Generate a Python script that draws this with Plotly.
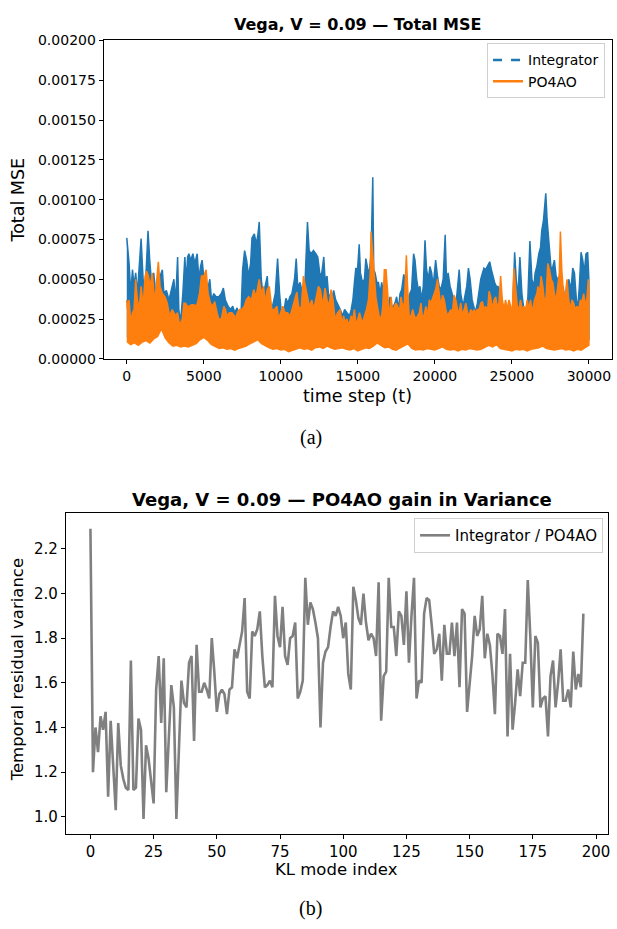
import plotly.graph_objects as go

# ---------------- (a) Total MSE : envelopes (units of 1e-4) -------------
int_hi_t = [0, 150, 260, 370, 470, 580, 690, 800, 930, 1060, 1190, 1290, 1380, 1490, 1620, 1750, 1880,
            2090, 2310, 2410, 2570, 2740, 2950, 3060, 3170, 3300, 3380, 3490, 3640, 3770, 3860, 3950,
            4030, 4160, 4290, 4420, 4570, 4680, 4790, 4890, 5020, 5110, 5240, 5390, 5500, 5650, 5800,
            5970, 6140, 6270, 6400, 6580, 6730, 6880, 7010, 7160, 7270, 7420, 7520, 7650, 7780, 7910,
            8040, 8130, 8280, 8410, 8520, 8600, 8730, 8840, 8990, 9120, 9210, 9310, 9460, 9640, 9790,
            9920, 10070, 10220, 10330, 10460, 10590, 10720, 10890, 11000, 11100, 11250, 11410, 11580,
            11730, 11840, 11970, 12120, 12270, 12400, 12550, 12660, 12790, 12870, 13000, 13090, 13300,
            13430, 13560, 13730,
            13860, 14010, 14140, 14290, 14460, 14570, 14680, 14780, 14870, 14980, 15090, 15170, 15300,
            15430, 15520, 15650, 15750, 15860, 15970, 16030, 16120, 16230, 16340, 16440, 16550, 16660,
            16770, 16880, 16980, 17090, 17200, 17310, 17410, 17520, 17630, 17740, 17850, 17980, 18060,
            18170, 18280, 18380, 18490, 18620, 18710, 18820, 18920, 19030, 19140, 19250, 19360, 19460,
            19570, 19680, 19790, 19890, 20050, 20170, 20280, 20390, 20540, 20670, 20760, 20860, 20990,
            21120, 21250, 21340, 21450, 21580, 21680, 21830, 21940, 22070, 22180, 22290, 22420, 22550,
            22630, 22760, 22870, 22980, 23090, 23190, 23300, 23410, 23560, 23670, 23770, 23880, 23990,
            24100, 24250, 24380, 24530, 24660, 24790, 24920, 25030, 25180, 25280, 25390, 25520, 25650,
            25780, 25930, 26040, 26170, 26300, 26430, 26510, 26620, 26750, 26860, 26940, 27050, 27140,
            27200, 27290, 27370, 27460, 27550, 27660, 27760, 27870, 27980, 28080, 28190, 28320, 28450,
            28580, 28690, 28840, 28950, 29060, 29190, 29270, 29380, 29490, 29600, 29700, 29810, 29920,
            29999]
int_hi_e4 = [7.6, 6.0, 4.1, 5.6, 4.6, 5.4, 4.1, 6.0, 7.55, 5.0, 4.1, 6.2, 8.05, 6.2, 4.6, 5.4, 4.1,
             5.0, 5.6, 4.1, 4.3, 3.7, 4.6, 5.0, 3.5, 6.4, 3.1, 2.3, 4.1, 6.4, 4.8, 6.4,
             6.6, 6.2, 6.6, 6.0, 6.6, 5.0, 5.8, 6.2, 5.0, 4.1, 4.3, 5.0, 3.7, 4.1, 3.9,
             3.9, 4.1, 4.45, 3.7, 3.3, 3.1, 3.3, 2.9, 3.2, 2.5, 2.9, 5.6, 6.8, 6.2, 5.2,
             6.0, 7.6, 7.85, 7.2, 7.85, 8.6, 5.0, 4.1, 4.6, 5.2, 3.7, 2.9, 3.3, 4.1, 6.3,
             4.1, 2.5, 3.1, 3.8, 3.5, 3.9, 4.1, 5.0, 6.3, 4.5, 4.8, 4.1, 5.0,
             8.6, 6.8, 6.6, 6.8, 6.6, 6.4, 5.2, 5.4, 6.4, 5.0, 5.2, 4.1, 3.7,
             4.3, 3.7, 3.4,
             3.1, 2.7, 3.1, 2.9, 2.7, 3.1, 3.7, 4.8, 5.7, 5.6, 7.2, 5.4, 4.8,
             5.0, 6.3, 5.6, 5.5, 6.6, 11.4, 5.6, 5.4, 4.8, 4.8, 4.1, 4.8, 4.1,
             3.5, 3.3, 3.3, 3.9, 3.3, 3.3, 3.5, 3.9, 3.1, 4.1, 4.35, 5.3, 5.0,
             3.5, 3.7, 4.1, 4.35, 6.6, 6.2, 5.0, 4.35, 4.55, 3.7, 4.55, 7.45, 5.6,
             5.0, 5.8, 5.4, 4.55, 6.2, 5.2, 4.55, 4.35, 5.0, 7.8, 4.8, 5.4, 4.55,
             4.1, 3.7, 3.1, 4.1, 5.6, 4.1, 3.3, 3.9, 4.55, 5.7, 5.0, 3.7, 3.1,
             2.9, 3.5, 4.35, 5.0, 5.4, 5.7, 5.6, 5.8, 6.1, 5.6, 5.2, 4.8, 4.55,
             4.55, 4.1, 3.1, 2.9, 3.1, 2.9, 2.5, 2.5, 6.7, 5.0, 3.9, 6.4, 4.1,
             3.1, 2.9, 3.9, 7.4, 5.0, 4.55, 5.4, 5.8, 6.6, 7.0, 8.05, 8.7, 9.7,
             10.4, 8.7, 7.85, 6.6, 5.6, 5.8, 6.2, 5.2, 5.0, 4.1, 4.35, 4.55, 3.7,
             4.1, 5.0, 4.35, 5.7, 5.4, 3.7, 3.1, 4.55, 6.7, 6.2, 5.4, 6.6, 6.7,
             5.0]

po_hi_t = [0, 40, 150, 260, 370, 470, 580, 690, 800, 930, 1060, 1190, 1290, 1400, 1510, 1660, 1810,
           1940, 2050, 2160, 2310, 2480, 2630, 2780, 2950, 3170, 3300, 3430, 3600, 3710, 3820, 3920,
           4030, 4200, 4360, 4460, 4590, 4720, 4850, 5000, 5150, 5280, 5430, 5580, 5710, 5860, 5970,
           6140, 6300, 6400, 6510, 6660, 6830, 6990, 7050, 7180, 7310, 7480, 7630, 7760, 7910, 8090,
           8240, 8390, 8520, 8600, 8730, 8880, 8990, 9120, 9250, 9420, 9590, 9750, 9850, 9980, 10130,
           10280, 10440, 10610, 10720, 10890, 11040, 11150, 11320, 11470, 11580, 11730, 11860, 12010,
           12140, 12270, 12440, 12570, 12720, 12870, 13000, 13130, 13260, 13390, 13520, 13690,
           13860, 13970, 14070, 14180, 14290, 14400, 14570, 14680, 14780, 14890, 15000, 15110, 15220,
           15320, 15430, 15560, 15690, 15800, 15860, 15950, 16060, 16170, 16270, 16380, 16510, 16620,
           16720, 16830, 16940, 17050, 17160, 17260, 17370, 17480, 17590, 17700, 17800, 17910, 18020,
           18150, 18230, 18340, 18450, 18560, 18670, 18770, 18880, 18990, 19100, 19200, 19310, 19420,
           19530, 19640, 19740, 19890, 20050, 20170, 20280, 20390, 20500, 20610, 20710, 20820, 20930,
           21040, 21140, 21250, 21360, 21470, 21580, 21680, 21790, 21900, 22010, 22120, 22220, 22330,
           22440, 22550, 22650, 22760, 22870, 22980, 23090, 23190, 23300, 23410, 23520, 23620, 23730,
           23840, 23950, 24050, 24160, 24270, 24380, 24490, 24590, 24700, 24810, 24920, 25030, 25130,
           25240, 25350, 25460, 25560, 25670, 25780, 25890, 26000, 26100, 26210, 26320, 26470, 26620,
           26690, 26790, 26900, 27010, 27120, 27220, 27330, 27440, 27550, 27660, 27760, 27870, 27980,
           28080, 28150, 28240, 28350, 28450, 28580, 28690, 28800, 28900, 29010, 29120, 29230, 29340,
           29450, 29550, 29660, 29770, 29880, 29960, 29999]
po_hi_e4 = [3.7, 3.1, 3.7, 2.3, 2.9, 3.1, 5.0, 3.7, 3.1, 4.55, 3.3, 5.2, 5.5, 5.2, 4.55, 5.4, 3.5,
            4.8, 6.1, 4.55, 4.1, 3.9, 3.5, 2.7, 3.1, 2.7, 2.9, 2.1, 2.5, 3.5, 3.5, 3.3,
            3.3, 3.4, 3.4, 3.3, 3.5, 4.1, 5.2, 5.2, 5.6, 4.1, 3.5, 3.3, 3.6, 2.9, 2.5,
            2.5, 3.3, 3.1, 2.7, 2.9, 2.9, 2.7, 2.5, 2.9, 3.1, 3.1, 3.3, 3.7, 3.9, 3.7,
            4.35, 3.9, 4.55, 5.0, 4.1, 4.55, 3.5, 4.35, 4.55, 3.1, 3.1, 3.3, 2.5, 2.9, 3.3,
            2.9, 2.9, 2.7, 3.1, 3.7, 4.2, 3.3, 3.1, 5.2, 4.55, 3.9, 3.3, 3.7,
            3.1, 3.7, 4.55, 4.35, 3.3, 4.45, 3.7, 3.3, 4.35, 3.7, 2.5, 2.9,
            3.1, 2.1, 2.7, 2.3, 2.5, 2.1, 2.7, 2.5, 3.1, 2.1, 2.5, 2.9, 2.5,
            2.3, 2.7, 3.1, 3.7, 5.3, 8.0, 6.6, 5.4, 3.9, 3.3, 2.7, 2.5, 3.3,
            5.6, 5.6, 4.1, 2.5, 3.9, 2.9, 3.3, 3.5, 3.3, 2.9, 3.9, 3.3, 3.5,
            6.5, 4.55, 2.5, 2.7, 3.1, 2.7, 2.5, 2.7, 2.9, 3.5, 2.5, 2.8, 3.3,
            2.7, 3.7, 3.5, 3.9, 4.35, 5.0, 4.1, 3.3, 4.0, 3.7, 3.1, 2.7, 2.9,
            3.1, 2.9, 4.0, 3.7, 3.1, 2.9, 3.5, 2.7, 3.1, 3.5, 2.9, 2.7, 3.1,
            2.9, 3.1, 2.9, 3.1, 3.1, 3.5, 3.6, 3.1, 3.3, 2.9, 4.25, 3.9, 3.1,
            3.7, 3.9, 3.3, 3.5, 5.2, 3.7, 3.1, 3.7, 3.1, 3.7, 3.3, 3.1, 5.7,
            4.55, 3.3, 3.1, 3.7, 3.1, 3.3, 3.1, 3.7, 3.1, 3.7, 2.9, 3.7, 4.1,
            4.55, 4.1, 5.2, 4.55, 3.5, 3.9, 6.0, 5.6, 5.0, 4.8, 4.1, 3.7, 4.55,
            5.4, 8.0, 5.6, 4.1, 3.9, 5.0, 3.7, 3.1, 3.7, 3.5, 3.1, 3.3, 3.1,
            3.7, 3.6, 4.1, 3.3, 3.9, 5.0, 4.1]

# lower edge of the PO4AO band, every 250 steps
po_lo_t = list(range(0, 30000, 250)) + [29999]
po_lo_e4 = [1.1, 0.9, 1.0, 0.85, 1.05, 1.15, 1.0, 1.25, 1.4,
            1.9, 1.3, 1.0, 0.8, 0.85, 0.75, 0.8, 0.75, 0.85, 0.95, 1.2, 1.35, 1.15, 0.9, 0.75,
            0.65, 0.7, 0.6, 0.65, 0.55, 0.65, 0.7, 0.8, 0.95, 1.1, 1.2, 0.95, 0.8, 0.7, 0.6,
            0.65, 0.55, 0.6, 0.45, 0.55, 0.6, 0.7, 0.6, 0.65, 0.55, 0.7, 0.75, 0.65, 0.8, 0.7,
            0.6, 0.65, 0.7, 0.6, 0.55, 0.65, 0.5, 0.6, 0.7, 0.65, 0.8, 1.0, 0.85, 0.7, 0.75,
            0.6, 0.55, 0.7, 0.85, 0.95, 0.65, 0.55, 0.6, 0.55, 0.65, 0.6, 0.55, 0.65, 0.75,
            0.6, 0.55, 0.6, 0.5, 0.6, 0.55, 0.65, 0.6, 0.55, 0.6, 0.7, 0.85, 0.75, 0.9, 0.65,
            0.6, 0.55, 0.5, 0.6, 0.55, 0.6, 0.5, 0.6, 0.65, 0.7, 0.8, 0.65, 0.6, 0.55, 0.6,
            0.65, 0.55, 0.6, 0.5, 0.6, 0.55, 0.7, 0.85]

# lower edge of the Integrator band (mostly hidden under PO4AO)
int_lo_t = [0, 500, 1000, 1500, 2000, 2200, 2400, 3000, 3500, 4000, 4500, 5000, 5500, 6000, 6500,
            7000, 7500, 8000, 8500, 9000, 9500, 10000, 10500, 11000, 11500, 12000, 12500, 13000,
            13500, 14000, 14500, 15000, 15500, 16000, 16500, 17000, 17500, 18000, 18500, 19000,
            19500, 20000, 20500, 21000, 21500, 22000, 22500, 23000, 23500, 24000, 24500, 25000,
            25500, 26000, 26500, 27000, 27500, 28000, 28500, 29000, 29500, 29999]
int_lo_e4 = [1.4, 1.3, 1.4, 1.6, 1.8, 2.3, 1.7, 1.2, 1.2, 1.2, 1.4, 1.6, 1.4, 1.1, 1.0, 1.0,
             1.1, 1.3, 1.5, 1.3, 1.0, 1.0, 0.9, 1.0, 1.0, 1.0, 1.1, 1.1, 1.0, 1.1,
             1.0, 0.9, 1.1, 1.2, 1.3, 1.1, 1.0, 1.0, 1.0, 1.0, 1.0, 1.0, 1.1,
             1.0, 0.9, 1.0, 1.0, 1.0, 1.2, 1.0, 1.0, 0.9, 1.0, 0.9, 1.0, 1.0,
             1.1, 1.0, 1.0, 0.9, 1.0, 1.2]

MSE_UNIT = 1e-4

# ---------------- (b) gain in variance per KL mode ----------------
gain = [2.29, 1.20, 1.40, 1.29, 1.45, 1.39, 1.47, 1.09, 1.43, 1.25,
        1.03, 1.42, 1.23, 1.17, 1.13, 1.12, 1.70, 1.12, 1.13, 1.44,
        1.39, 0.99, 1.32, 1.26, 1.15, 1.06, 1.57, 1.72, 1.42, 1.71,
        1.11, 1.35, 1.59, 1.49, 0.99, 1.30, 1.61, 1.51, 1.49, 1.69,
        1.72, 1.34, 1.77, 1.56, 1.56, 1.60, 1.57, 1.53, 1.80, 1.65,
        1.47, 1.55, 1.57, 1.55, 1.46, 1.57, 1.58, 1.75, 1.71, 1.77,
        1.83, 1.98, 1.56, 1.53, 1.83, 1.81, 1.84, 1.92, 1.72, 1.58,
        1.59, 1.61, 1.58, 1.99, 1.81, 1.76, 1.94, 1.72, 1.68, 1.80,
        1.81, 1.87, 1.53, 1.56, 1.61, 2.07, 1.86, 1.96, 1.93, 1.87,
        1.80, 1.40, 1.69, 1.74, 1.76, 1.85, 1.92, 1.90, 1.94, 1.90,
        1.80, 1.87, 1.64, 1.57, 2.03, 1.97, 1.89, 1.86, 2.00, 1.87,
        1.79, 1.82, 1.80, 1.72, 2.05, 1.43, 1.63, 1.65, 2.07, 1.85,
        1.85, 1.72, 1.92, 1.90, 1.77, 2.01, 1.69, 1.90, 2.07, 1.53,
        1.61, 1.60, 1.91, 1.98, 1.97, 1.86, 1.73, 1.75, 1.82, 1.61,
        1.86, 1.73, 1.73, 1.87, 1.72, 1.87, 1.58, 1.93, 1.91, 1.47,
        1.59, 1.72, 1.90, 1.81, 1.84, 1.99, 1.71, 1.82, 1.77, 1.64,
        1.46, 1.82, 1.81, 1.73, 1.93, 1.36, 1.73, 1.39, 1.51, 1.66,
        1.54, 1.69, 1.69, 2.06, 1.81, 1.49, 1.81, 1.78, 1.49, 1.53,
        1.54, 1.36, 1.63, 1.70, 1.49, 1.60, 1.75, 1.52, 1.52, 1.57,
        1.49, 1.74, 1.57, 1.64, 1.58, 1.91]
kl_index = list(range(len(gain)))

BLUE, ORANGE, GRAY = "#1f77b4", "#ff7f0e", "#808080"
FONT = "DejaVu Sans"

def band(t_hi, hi, t_lo, lo):
    xs = list(t_hi) + list(t_lo)[::-1]
    ys = [v * MSE_UNIT for v in hi] + [v * MSE_UNIT for v in lo][::-1]
    return xs, ys

fig = go.Figure()

bx, by = band(int_hi_t, int_hi_e4, int_lo_t, int_lo_e4)
fig.add_trace(go.Scatter(x=bx, y=by, mode="lines", fill="toself", fillcolor=BLUE,
                         line=dict(color=BLUE, width=1.5), showlegend=False, hoverinfo="skip",
                         xaxis="x", yaxis="y"))
ox, oy = band(po_hi_t, po_hi_e4, po_lo_t, po_lo_e4)
fig.add_trace(go.Scatter(x=ox, y=oy, mode="lines", fill="toself", fillcolor=ORANGE,
                         line=dict(color=ORANGE, width=1.5), showlegend=False, hoverinfo="skip",
                         xaxis="x", yaxis="y"))
# legend entries
fig.add_trace(go.Scatter(x=[None], y=[None], mode="lines", name="Integrator",
                         line=dict(color=BLUE, width=2.5, dash="dash"), xaxis="x", yaxis="y",
                         legend="legend"))
fig.add_trace(go.Scatter(x=[None], y=[None], mode="lines", name="PO4AO",
                         line=dict(color=ORANGE, width=2.5), xaxis="x", yaxis="y",
                         legend="legend"))

fig.add_trace(go.Scatter(x=kl_index, y=gain, mode="lines", name="Integrator / PO4AO",
                         line=dict(color=GRAY, width=2.6), xaxis="x2", yaxis="y2",
                         legend="legend2"))

W, H = 617, 929
def px_x(p): return p / W
def px_y(p): return 1 - p / H

def axis_style(fs):
    return dict(showline=True, linecolor="black", linewidth=1, mirror=True,
                ticks="outside", ticklen=4, tickcolor="black", showgrid=False, zeroline=False,
                tickfont=dict(family=FONT, size=fs, color="black"))

fig.update_layout(
    width=W, height=H, margin=dict(l=0, r=0, t=0, b=0),
    paper_bgcolor="white", plot_bgcolor="white",
    xaxis=dict(domain=[px_x(104), px_x(614)], range=[-1500, 31500], anchor="y",
               tickvals=[0, 5000, 10000, 15000, 20000, 25000, 30000], tickformat="d",
               **axis_style(14)),
    yaxis=dict(domain=[px_y(357), px_y(33)], range=[0, 0.002], anchor="x",
               tickvals=[i * 0.00025 for i in range(9)], tickformat=".5f", **axis_style(14)),
    xaxis2=dict(domain=[px_x(66), px_x(610)], range=[-9.75, 204.75], anchor="y2",
                tickvals=[0, 25, 50, 75, 100, 125, 150, 175, 200], **axis_style(15)),
    yaxis2=dict(domain=[px_y(840), px_y(514)], range=[0.925, 2.36], anchor="x2",
                tickvals=[1.0, 1.2, 1.4, 1.6, 1.8, 2.0, 2.2], tickformat=".1f", **axis_style(15)),
    legend=dict(x=px_x(607), y=px_y(36), xanchor="right", yanchor="top",
                bordercolor="#d0d0d0", borderwidth=1, bgcolor="rgba(255,255,255,0.8)",
                font=dict(family=FONT, size=14, color="black"), tracegroupgap=2),
    legend2=dict(x=px_x(605), y=px_y(519), xanchor="right", yanchor="top",
                 bordercolor="#d0d0d0", borderwidth=1, bgcolor="rgba(255,255,255,0.8)",
                 font=dict(family=FONT, size=15, color="black")),
    showlegend=True,
)

ann = []
ann.append(dict(text="<b>Vega, V = 0.09 — Total MSE</b>", x=px_x(359), y=px_y(17),
                font=dict(family=FONT, size=16, color="black")))
ann.append(dict(text="time step (t)", x=px_x(359), y=px_y(395),
                font=dict(family=FONT, size=17.5, color="black")))
ann.append(dict(text="Total MSE", x=px_x(18), y=px_y(195), textangle=-90,
                font=dict(family=FONT, size=17.5, color="black")))
ann.append(dict(text="(a)", x=px_x(312), y=px_y(437),
                font=dict(family="Liberation Serif", size=20, color="black")))
ann.append(dict(text="<b>Vega, V = 0.09 — PO4AO gain in Variance</b>", x=px_x(343), y=px_y(500),
                font=dict(family=FONT, size=18, color="black")))
ann.append(dict(text="KL mode index", x=px_x(338), y=px_y(877),
                font=dict(family=FONT, size=16.5, color="black")))
ann.append(dict(text="Temporal residual variance", x=px_x(17), y=px_y(673), textangle=-90,
                font=dict(family=FONT, size=16.5, color="black")))
ann.append(dict(text="(b)", x=px_x(312), y=px_y(916),
                font=dict(family="Liberation Serif", size=20, color="black")))
for a in ann:
    a.update(xref="paper", yref="paper", showarrow=False, xanchor="center", yanchor="middle")
fig.update_layout(annotations=ann)

fig.write_html("out.html")
